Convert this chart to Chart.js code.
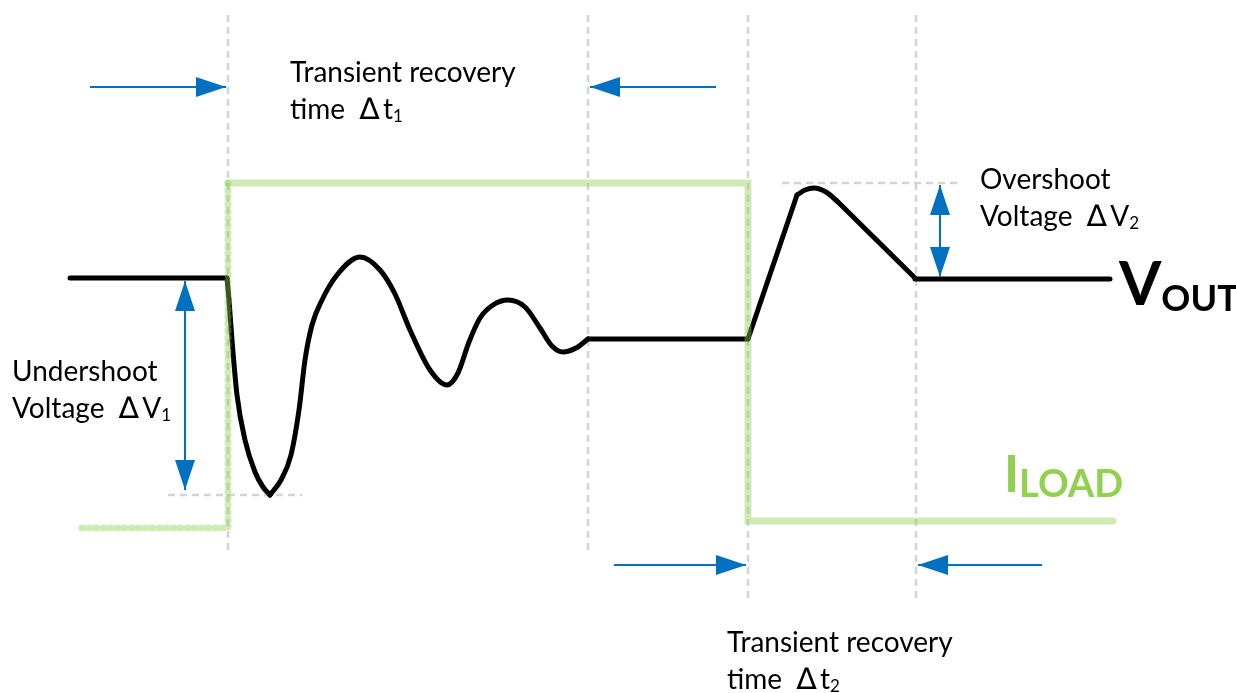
<!DOCTYPE html>
<html>
<head>
<meta charset="utf-8">
<script src="https://cdn.jsdelivr.net/npm/chart.js@4.4.1/dist/chart.umd.min.js"></script>
<style>
  html, body { margin: 0; padding: 0; background: #fff; }
  #wrap { width: 1236px; height: 693px; }
</style>
</head>
<body>
<div id="wrap"><canvas id="grafico" width="1236" height="693"></canvas></div>
<script>
    // VOUT waveform, x = time, y = level (top of picture = 0)
    const voutFlatLeft = [[70, 278], [227, 278]];
    const voutDrop = [[227, 278], [229, 300], [232, 340], [237, 395], [245, 440], [255, 472], [263, 487], [270, 495]];
    const voutRing = [[270, 495], [281, 480], [291, 455], [299, 410], [305, 360], [312, 325], [322, 300],
        [337, 275], [360, 257], [380, 270], [395, 294], [410, 330], [430, 370], [447, 385], [458, 373],
        [469, 342], [480, 318], [493, 305], [508, 300], [525, 307], [540, 328], [552, 346], [563, 352],
        [576, 348], [588, 339]];
    const voutFlatMid = [[588, 339], [748, 339]];
    const voutRamp = [[748, 339], [797, 195]];
    const voutBump = [[797, 195], [805, 190], [814, 188], [826, 192], [837, 201]];
    const voutDecay = [[837, 201], [915, 278]];
    const voutFlatRight = [[915, 279], [1110, 279]];

    // ILOAD step
    const iloadBefore = [[82, 528], [228, 528], [228, 183]];
    const iloadAfter = [[228, 183], [748, 183], [748, 521], [1113, 521]];

    // dashed guides
    const guiasV = [[228, 15, 555], [588, 15, 550], [748, 15, 600], [916, 15, 600]];
    const guiasH = [[495, 168, 302], [183, 782, 958]];

    // arrows: from, to, double headed?
    const setas = [
        [[90, 87], [226, 87], false],
        [[716, 87], [590, 87], false],
        [[614, 565], [746, 565], false],
        [[1042, 565], [918, 565], false],
        [[185, 281], [185, 490], true],
        [[940, 185], [940, 277], true]
    ];

    const D = '\u2206';
    const textos = [
        { x: 290, y: 82, runs: [['Transient recovery', 28]] },
        { x: 290, y: 119, runs: [['time  ', 28], [D, 30, 0, 'normal', null, 'DejaVu Sans'], ['\u2009t', 28], ['1', 17, 3]] },
        { x: 980, y: 189, runs: [['Overshoot', 28]] },
        { x: 980, y: 226, runs: [['Voltage  ', 28], [D, 30, 0, 'normal', null, 'DejaVu Sans'], ['\u2009V', 28], ['2', 17, 3]] },
        { x: 12, y: 381, runs: [['Undershoot', 28]] },
        { x: 12, y: 418, runs: [['Voltage  ', 28], [D, 30, 0, 'normal', null, 'DejaVu Sans'], ['\u2009V', 28], ['1', 17, 3]] },
        { x: 727, y: 652, runs: [['Transient recovery', 28]] },
        { x: 727, y: 689, runs: [['time  ', 28], [D, 30, 0, 'normal', null, 'DejaVu Sans'], ['\u2009t', 28], ['2', 17, 3]] },
        { x: 1119, y: 305, runs: [['V', 61, 0, 'bold'], ['OUT', 36, 6, 'bold']] },
        { x: 1004, y: 492, runs: [['I', 51, 0, 'bold', '#92d050'], ['LOAD', 38, 5, 'bold', '#92d050']] }
    ];

    const azul = '#0070c0';
    const preto = '#000000';
    const verde = 'rgba(146, 208, 80, 0.42)';
    const cinza = '#d4d4d4';
    const fonte = 'Lato, "Open Sans", sans-serif';

    function pts(lista) {
        return lista.map(p => ({ x: p[0], y: p[1] }));
    }

    function headCanvas(len, wid, cor) {
        const c = document.createElement('canvas');
        c.width = len * 2;
        c.height = wid;
        const g = c.getContext('2d');
        g.fillStyle = cor;
        g.beginPath();
        g.moveTo(0, 0);
        g.lineTo(len, wid / 2);
        g.lineTo(0, wid);
        g.closePath();
        g.fill();
        return c;
    }
    const cabeca = headCanvas(30, 20, azul);

    const datasets = [];

    // green current (drawn on top of vout)
    datasets.push({
        data: pts(iloadBefore), borderColor: verde, borderWidth: 7,
        borderDash: [1, 6], borderCapStyle: 'round', borderJoinStyle: 'round', tension: 0
    });
    datasets.push({
        data: pts(iloadAfter), borderColor: verde, borderWidth: 7,
        borderCapStyle: 'round', borderJoinStyle: 'miter', tension: 0
    });

    // arrow heads
    var heads = [];
    var rots = [];
    setas.forEach(s => {
        const a = s[0], b = s[1];
        const ang = Math.atan2(b[1] - a[1], b[0] - a[0]) * 180 / Math.PI;
        heads.push({ x: b[0], y: b[1] });
        rots.push(ang);
        if (s[2]) {
            heads.push({ x: a[0], y: a[1] });
            rots.push(ang + 180);
        }
    });
    datasets.push({
        data: heads, showLine: false, pointStyle: cabeca, pointRadius: 5,
        pointRotation: rots, borderWidth: 0
    });
    setas.forEach(s => {
        datasets.push({ data: pts([s[0], s[1]]), borderColor: azul, borderWidth: 2 });
    });

    // vout pieces
    [voutFlatLeft, voutDrop, voutRing, voutFlatMid, voutRamp, voutBump, voutDecay, voutFlatRight].forEach(parte => {
        datasets.push({
            data: pts(parte), borderColor: preto, borderWidth: 5,
            borderCapStyle: 'round', borderJoinStyle: 'round',
            cubicInterpolationMode: parte.length > 2 ? 'monotone' : 'default'
        });
    });

    // guides at the back
    guiasV.forEach(g => {
        datasets.push({ data: pts([[g[0], g[1]], [g[0], g[2]]]), borderColor: cinza, borderWidth: 2.5, borderDash: [7, 5] });
    });
    guiasH.forEach(g => {
        datasets.push({ data: pts([[g[1], g[0]], [g[2], g[0]]]), borderColor: cinza, borderWidth: 2.5, borderDash: [7, 5] });
    });

    datasets.forEach(d => {
        if (d.pointRadius === undefined) d.pointRadius = 0;
        d.fill = false;
        d.clip = false;
    });

    const textosPlugin = {
        id: 'textos',
        afterDatasetsDraw(chart) {
            const ctx = chart.ctx;
            const sx = chart.scales.x, sy = chart.scales.y;
            ctx.save();
            ctx.textBaseline = 'alphabetic';
            ctx.textAlign = 'left';
            textos.forEach(t => {
                var px = sx.getPixelForValue(t.x);
                const py = sy.getPixelForValue(t.y);
                t.runs.forEach(r => {
                    ctx.font = (r[3] || 'normal') + ' ' + r[1] + 'px ' + (r[5] || fonte);
                    ctx.fillStyle = r[4] || '#000';
                    ctx.fillText(r[0], px, py + (r[2] || 0));
                    px += ctx.measureText(r[0]).width;
                });
            });
            ctx.restore();
        }
    };

    new Chart(document.getElementById('grafico'), {
        type: 'line',
        data: { datasets: datasets },
        options: {
            responsive: false,
            animation: false,
            layout: { padding: 0, autoPadding: false },
            scales: {
                x: { type: 'linear', min: 0, max: 1236, display: false },
                y: { type: 'linear', min: 0, max: 693, reverse: true, display: false }
            },
            plugins: {
                legend: { display: false },
                tooltip: { enabled: false }
            },
            elements: { line: { tension: 0 } }
        },
        plugins: [textosPlugin]
    });
</script>
</body>
</html>
